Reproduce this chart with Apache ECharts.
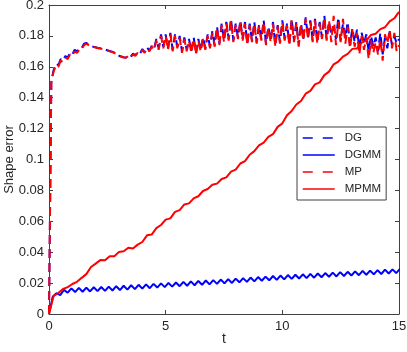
<!DOCTYPE html>
<html>
<head>
<meta charset="utf-8">
<script src="https://cdn.jsdelivr.net/npm/echarts@6/dist/echarts.min.js"></script>
<style>
html, body {margin: 0; padding: 0; background: #fff;}
#main {width: 407px; height: 352px;}
</style>
</head>
<body>
<div id="main"></div>
<script>
// sampling steps of each curve (t units)
var DASH_DT = 0.1
var DGMM_DT = 0.16
var MPMM_DT = 0.2

// DG (blue dashed), t = 0 .. 15 step 0.1
var dgValues = [
    0, 0.151, 0.158, 0.162, 0.161, 0.165, 0.164, 0.167, 0.166, 0.169,
    0.168, 0.171, 0.170, 0.172, 0.172, 0.175, 0.1755, 0.1745, 0.1735, 0.173,
    0.1727, 0.1722, 0.172, 0.1717, 0.1712, 0.1707, 0.1702, 0.1697, 0.1692, 0.1682,
    0.1672, 0.1667, 0.1662, 0.166, 0.1675, 0.1665, 0.1685, 0.1675, 0.1695, 0.1685,
    0.1715, 0.1695, 0.1725, 0.1705, 0.1735, 0.1715, 0.178, 0.172, 0.181, 0.173,
    0.181, 0.172, 0.182, 0.171, 0.181, 0.173, 0.180, 0.170, 0.179, 0.171,
    0.178, 0.170, 0.179, 0.169, 0.178, 0.171, 0.179, 0.172, 0.181, 0.173,
    0.183, 0.174, 0.186, 0.175, 0.188, 0.177, 0.189, 0.178, 0.191, 0.177,
    0.188, 0.179, 0.190, 0.178, 0.189, 0.175, 0.188, 0.177, 0.189, 0.176,
    0.187, 0.178, 0.190, 0.175, 0.186, 0.177, 0.189, 0.174, 0.187, 0.176,
    0.190, 0.178, 0.188, 0.175, 0.191, 0.177, 0.189, 0.174, 0.188, 0.178,
    0.192, 0.179, 0.190, 0.177, 0.191, 0.176, 0.189, 0.179, 0.193, 0.178,
    0.189, 0.181, 0.186, 0.178, 0.192, 0.177, 0.188, 0.179, 0.189, 0.174,
    0.185, 0.176, 0.184, 0.172, 0.182, 0.175, 0.181, 0.170, 0.180, 0.173,
    0.179, 0.170, 0.182, 0.168, 0.179, 0.172, 0.183, 0.174, 0.180, 0.175,
    0.178
]

// MP (red dashed), t = 0 .. 15 step 0.1
var mpValues = [
    0, 0.150, 0.157, 0.161, 0.160, 0.164, 0.163, 0.166, 0.165, 0.168,
    0.167, 0.170, 0.169, 0.171, 0.171, 0.174, 0.175, 0.174, 0.173, 0.1728,
    0.1725, 0.172, 0.1718, 0.1715, 0.171, 0.1705, 0.170, 0.1695, 0.169, 0.168,
    0.167, 0.1665, 0.166, 0.1658, 0.167, 0.166, 0.168, 0.167, 0.169, 0.168,
    0.171, 0.169, 0.172, 0.170, 0.173, 0.171, 0.177, 0.171, 0.180, 0.172,
    0.180, 0.171, 0.181, 0.170, 0.180, 0.172, 0.179, 0.169, 0.178, 0.170,
    0.177, 0.169, 0.178, 0.168, 0.177, 0.170, 0.178, 0.171, 0.180, 0.172,
    0.182, 0.173, 0.185, 0.174, 0.187, 0.176, 0.188, 0.177, 0.190, 0.176,
    0.187, 0.178, 0.189, 0.177, 0.188, 0.174, 0.187, 0.176, 0.188, 0.175,
    0.186, 0.177, 0.189, 0.174, 0.185, 0.176, 0.188, 0.173, 0.186, 0.175,
    0.189, 0.177, 0.187, 0.174, 0.190, 0.176, 0.188, 0.173, 0.187, 0.177,
    0.191, 0.178, 0.189, 0.176, 0.190, 0.175, 0.188, 0.178, 0.192, 0.177,
    0.190, 0.176, 0.193, 0.174, 0.189, 0.176, 0.191, 0.175, 0.186, 0.172,
    0.184, 0.173, 0.182, 0.168, 0.180, 0.171, 0.179, 0.165, 0.177, 0.169,
    0.176, 0.168, 0.178, 0.164, 0.181, 0.175, 0.184, 0.172, 0.182, 0.170,
    0.174
]

// DGMM (blue solid), t = 0 .. 15.04 step 0.16
var dgmmValues = [
    0, 0.0112, 0.0135, 0.0122, 0.0156, 0.0138, 0.0166, 0.0142, 0.0169, 0.0144,
    0.0171, 0.0146, 0.0173, 0.0148, 0.0175, 0.0150, 0.0177, 0.0152, 0.0180, 0.0155,
    0.0183, 0.0158, 0.0186, 0.0161, 0.0189, 0.0164, 0.0192, 0.0167, 0.0195, 0.0171,
    0.0198, 0.0174, 0.0201, 0.0177, 0.0204, 0.0180, 0.0208, 0.0183, 0.0211, 0.0186,
    0.0214, 0.0189, 0.0217, 0.0192, 0.0219, 0.0195, 0.0223, 0.0198, 0.0226, 0.0201,
    0.0229, 0.0205, 0.0232, 0.0208, 0.0236, 0.0211, 0.0239, 0.0215, 0.0242, 0.0218,
    0.0246, 0.0221, 0.0249, 0.0224, 0.0252, 0.0227, 0.0254, 0.0230, 0.0257, 0.0232,
    0.0260, 0.0235, 0.0262, 0.0238, 0.0265, 0.0241, 0.0268, 0.0243, 0.0271, 0.0246,
    0.0273, 0.0249, 0.0276, 0.0251, 0.0279, 0.0254, 0.0281, 0.0257, 0.0284, 0.0259,
    0.0287, 0.0262, 0.0289, 0.0265, 0.0292
]

// MPMM (red solid), t = 0 .. 15 step 0.2
var mpmmValues = [
    0, 0.0118, 0.0136, 0.0162, 0.0174, 0.0194, 0.0208, 0.0234, 0.0258, 0.0304,
    0.0326, 0.0349, 0.0348, 0.0374, 0.0374, 0.0402, 0.0406, 0.0429, 0.0424, 0.0449,
    0.0466, 0.0509, 0.0514, 0.0556, 0.0576, 0.0611, 0.0619, 0.0661, 0.0672, 0.0709,
    0.0716, 0.0748, 0.0762, 0.0796, 0.0809, 0.0836, 0.0844, 0.0874, 0.0884, 0.0921,
    0.0934, 0.0974, 0.0989, 0.1031, 0.1054, 0.1091, 0.1109, 0.1146, 0.1164, 0.1211,
    0.1234, 0.1286, 0.1314, 0.1356, 0.1379, 0.1426, 0.1444, 0.1486, 0.1499, 0.1546,
    0.1569, 0.1616, 0.1634, 0.1666, 0.1684, 0.1716, 0.1719, 0.1756, 0.1769, 0.1806,
    0.1814, 0.1844, 0.1856, 0.1894, 0.1914, 0.1955
]

var seriesNames = ['DG', 'DGMM', 'MP', 'MPMM']
var xTicks = [0, 5, 10, 15]

function toPairs(values, dt) {
    return values.map(function (v, i) {
        return [Math.round(i * dt * 100) / 100, v]
    })
}

function $extend(a, b) {
    return echarts.util.merge(echarts.util.clone(a), b, true)
}

var AXIS_COLOR = '#404040'
var TEXT_COLOR = '#262626'
var FONT = '"Liberation Sans", Arial, sans-serif'

var chart = echarts.init(document.getElementById('main'))

var baseX = {
    type: 'value',
    min: xTicks[0],
    max: xTicks[xTicks.length - 1],
    interval: 5,
    axisLine: {show: true, onZero: false, lineStyle: {color: AXIS_COLOR, width: 1}},
    axisTick: {show: true, inside: true, length: 4, lineStyle: {color: AXIS_COLOR}},
    splitLine: {show: false}
}
var baseY = {
    type: 'value',
    min: 0,
    max: 0.2,
    interval: 0.02,
    axisLine: {show: true, onZero: false, lineStyle: {color: AXIS_COLOR, width: 1}},
    axisTick: {show: true, inside: true, length: 4, lineStyle: {color: AXIS_COLOR}},
    splitLine: {show: false}
}

// legend entries: line only, no marker
var legendItems = seriesNames.map(function (name, i) {
    return {
        name: name,
        itemStyle: {opacity: 0},
        lineStyle: i % 2 === 0 ? {type: [10, 10], width: 1.5} : {width: 1.5}
    }
})

var option = {
    animation: false,
    backgroundColor: '#fff',
    grid: {left: 49, right: 8, top: 5, bottom: 38, containLabel: false, outerBoundsMode: 'none'},
    xAxis: [
        $extend(baseX, {
            position: 'bottom',
            name: 't',
            nameLocation: 'middle',
            nameGap: 18,
            nameMoveOverlap: false,
            nameTextStyle: {color: TEXT_COLOR, fontSize: 14, fontFamily: FONT},
            axisLabel: {color: TEXT_COLOR, fontSize: 13, fontFamily: FONT, margin: 6}
        }),
        $extend(baseX, {position: 'top', axisLabel: {show: false}})
    ],
    yAxis: [
        $extend(baseY, {
            position: 'left',
            name: 'Shape error',
            nameLocation: 'middle',
            nameGap: 33,
            nameMoveOverlap: false,
            nameTextStyle: {color: TEXT_COLOR, fontSize: 13, fontFamily: FONT},
            axisLabel: {color: TEXT_COLOR, fontSize: 13, fontFamily: FONT, margin: 5,
                formatter: function (v) { return String(+v.toFixed(2)) }}
        }),
        $extend(baseY, {position: 'right', axisLabel: {show: false}})
    ],
    legend: {
        orient: 'vertical',
        left: 297,
        top: 127,
        width: 90,
        padding: [5, 5, 5, 5],
        itemWidth: 32,
        itemHeight: 10,
        itemGap: 5,
        backgroundColor: '#fff',
        borderColor: AXIS_COLOR,
        borderWidth: 1,
        borderRadius: 0,
        textStyle: {color: TEXT_COLOR, fontSize: 11.5, fontFamily: FONT, padding: [0, 0, 0, 5]},
        data: legendItems
    },
    series: [
        {
            name: seriesNames[0], type: 'line', showSymbol: false, symbol: 'none',
            data: toPairs(dgValues, DASH_DT),
            lineStyle: {color: '#0000ff', width: 2, type: [9, 5]},
            itemStyle: {color: '#0000ff'}
        },
        {
            name: seriesNames[1], type: 'line', showSymbol: false, symbol: 'none',
            data: toPairs(dgmmValues, DGMM_DT),
            lineStyle: {color: '#0000ff', width: 2},
            itemStyle: {color: '#0000ff'}
        },
        {
            name: seriesNames[2], type: 'line', showSymbol: false, symbol: 'none',
            data: toPairs(mpValues, DASH_DT),
            lineStyle: {color: '#ff0000', width: 2, type: [9, 5]},
            itemStyle: {color: '#ff0000'}
        },
        {
            name: seriesNames[3], type: 'line', showSymbol: false, symbol: 'none',
            data: toPairs(mpmmValues, MPMM_DT),
            lineStyle: {color: '#ff0000', width: 2},
            itemStyle: {color: '#ff0000'}
        }
    ]
}

chart.setOption(option)
</script>
</body>
</html>
